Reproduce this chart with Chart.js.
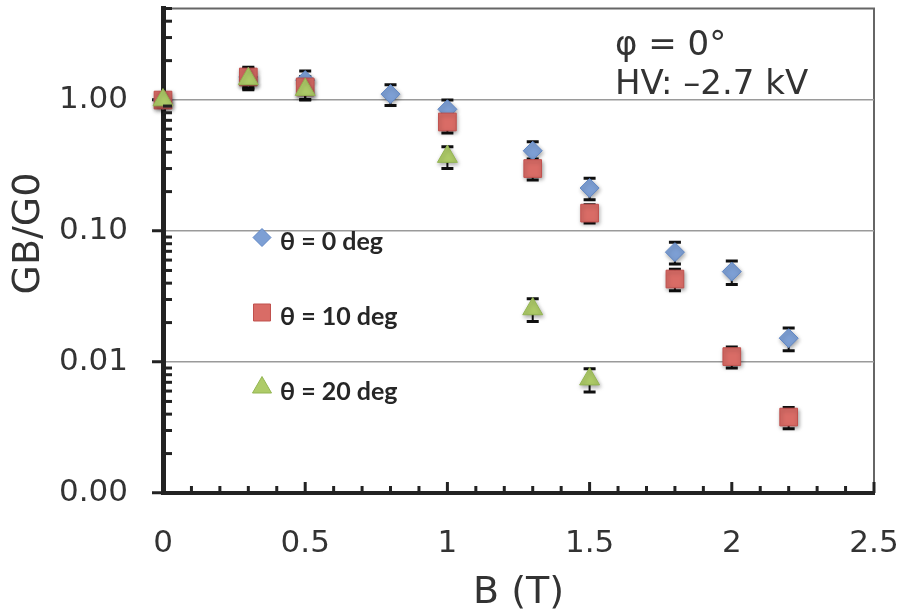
<!DOCTYPE html>
<html>
<head>
<meta charset="utf-8">
<script src="https://cdn.jsdelivr.net/npm/chart.js@4.4.1/dist/chart.umd.min.js"></script>
<style>
  html, body { margin: 0; padding: 0; background: #fff; overflow: hidden; }
  /* canvas a bit taller and lifted so the plot top lands where the original has it */
  #wrap { width: 905px; height: 621px; margin-top: -5px; }
</style>
</head>
<body>
<div id="wrap"><canvas id="chart"></canvas></div>
<script>
// field values (T)
var B_FIELD = [0, 0.3, 0.5, 0.8, 1.0, 1.3, 1.5, 1.8, 2.0, 2.2];

// GB/G0 per tilt angle, null where not measured
var THETA0      = [1.00, 1.50, 1.42, 1.11, 0.85, 0.41, 0.213, 0.069, 0.049, 0.0152];
var THETA0_ERR  = [0.10, 0.25, 0.25, 0.20, 0.15, 0.07, 0.04, 0.013, 0.010, 0.003];
var THETA10     = [1.00, 1.50, 1.26, null, 0.68, 0.30, 0.137, 0.043, 0.011, 0.0038];
var THETA10_ERR = [0.12, 0.28, 0.25, null, 0.12, 0.055, 0.022, 0.008, 0.002, 0.0007];
var THETA20     = [1.00, 1.45, 1.20, null, 0.37, 0.0254, 0.0074, null, null, null];
var THETA20_ERR = [0.10, 0.25, 0.20, null, 0.07, 0.005, 0.0015, null, null, null];

var SERIES_LABELS = ['\u03b8 = 0 deg', '\u03b8 = 10 deg', '\u03b8 = 20 deg'];
var Y_TICKS = [0.001, 0.01, 0.1, 1];
var X_TICKS = [0, 0.5, 1, 1.5, 2, 2.5];
var NOTE_LINES = ['\u03c6 = 0\u00b0', 'HV: \u20132.7 kV'];
var Y_TITLE = 'GB/G0';

var FILLS   = ['#7d9fd4', '#d96c66', '#aecb68'];
var BORDERS = ['#5f86c4', '#c0504d', '#93b552'];
var STYLES  = ['rectRot', 'rect', 'triangle'];
var RADII   = [9.5, 12.5, 11.5];

var INK = '#333333';

function points(vals) {
  var out = [];
  vals.forEach(function (v, i) {
    if (v !== null) out.push({ x: B_FIELD[i], y: v });
  });
  return out;
}

var seriesVals = [THETA0, THETA10, THETA20];
var errors = [THETA0_ERR, THETA10_ERR, THETA20_ERR];

var errorBarPlugin = {
  id: 'errorBars',
  beforeDatasetsDraw: function (chart) {
    var c = chart.ctx, xs = chart.scales.x, ys = chart.scales.y;
    c.save();
    c.strokeStyle = '#111';
    errors.forEach(function (errs, d) {
      seriesVals[d].forEach(function (v, i) {
        if (v === null) return;
        var px = xs.getPixelForValue(B_FIELD[i]);
        var top = ys.getPixelForValue(v + errs[i]);
        var bot = ys.getPixelForValue(v - errs[i]);
        c.lineWidth = 2;
        c.beginPath();
        c.moveTo(px, top); c.lineTo(px, bot);
        c.stroke();
        c.lineWidth = 3;
        c.beginPath();
        c.moveTo(px - 6, top); c.lineTo(px + 6, top);
        c.moveTo(px - 6, bot); c.lineTo(px + 6, bot);
        c.stroke();
      });
    });
    c.restore();
  }
};

var shadowPlugin = {
  id: 'markerShadow',
  beforeDatasetDraw: function (chart) {
    var c = chart.ctx;
    c.save();
    c.shadowColor = 'rgba(0,0,0,0.35)';
    c.shadowBlur = 4;
    c.shadowOffsetX = 1;
    c.shadowOffsetY = 2;
  },
  afterDatasetDraw: function (chart) {
    chart.ctx.restore();
  }
};

function drawMarker(c, style, x, y, r) {
  c.beginPath();
  if (style === 'rectRot') {
    c.moveTo(x - r, y); c.lineTo(x, y - r); c.lineTo(x + r, y); c.lineTo(x, y + r);
  } else if (style === 'rect') {
    var s = r * Math.SQRT1_2;
    c.rect(x - s, y - s, 2 * s, 2 * s);
  } else {
    c.moveTo(x, y - r);
    c.lineTo(x + Math.sin(2 * Math.PI / 3) * r, y + r / 2);
    c.lineTo(x - Math.sin(2 * Math.PI / 3) * r, y + r / 2);
  }
  c.closePath();
  c.fill();
  c.stroke();
}

var framePlugin = {
  id: 'frame',
  beforeDraw: function (chart) {
    var c = chart.ctx, a = chart.chartArea;
    c.save();
    c.strokeStyle = '#666';
    c.lineWidth = 2;
    c.beginPath();
    c.moveTo(a.left, a.top); c.lineTo(a.right, a.top); c.lineTo(a.right, a.bottom);
    c.stroke();
    c.restore();
  },
  afterDraw: function (chart) {
    var c = chart.ctx, a = chart.chartArea, xs = chart.scales.x, ys = chart.scales.y;
    c.save();
    c.strokeStyle = '#222';
    c.lineWidth = 3;
    // minor ticks on the log axis, pointing inwards
    Y_TICKS.forEach(function (dec) {
      for (var m = 2; m <= 9; m++) {
        var v = m * dec;
        if (v > ys.max) break;
        var py = ys.getPixelForValue(v);
        c.beginPath(); c.moveTo(a.left, py); c.lineTo(a.left + 9, py); c.stroke();
      }
    });
    c.beginPath(); c.moveTo(a.left, a.top); c.lineTo(a.left + 9, a.top); c.stroke();
    // x ticks every 0.1, taller on the labelled ones
    for (var k = 0; k <= 25; k++) {
      var px = xs.getPixelForValue(k / 10);
      var len = (k % 5 === 0) ? 11 : 7;
      c.beginPath(); c.moveTo(px, a.bottom); c.lineTo(px, a.bottom - len); c.stroke();
    }
    // legend, placed from the plot's top edge
    c.lineWidth = 1;
    c.textBaseline = 'middle';
    c.textAlign = 'left';
    c.font = 'bold 25px Lato';
    var rows = [231, 306, 381];
    SERIES_LABELS.forEach(function (lab, i) {
      c.fillStyle = FILLS[i];
      c.strokeStyle = BORDERS[i];
      drawMarker(c, STYLES[i], 262, a.top + rows[i] - 2, [9, 12, 11][i]);
      c.fillStyle = '#262626';
      c.fillText(lab, 280, a.top + rows[i] + 2);
    });
    // note
    c.font = '34px "DejaVu Sans"';
    c.fillStyle = INK;
    c.fillText(NOTE_LINES[0], 615, a.top + 38);
    c.fillText(NOTE_LINES[1], 615, a.top + 77);
    // y title, sits a little above the axis centre
    c.translate(29, a.top + 225);
    c.rotate(-Math.PI / 2);
    c.textAlign = 'center';
    c.font = '38px "DejaVu Sans"';
    c.fillText(Y_TITLE, 0, 0);
    c.restore();
  }
};

var datasets = seriesVals.map(function (vals, i) {
  return {
    label: SERIES_LABELS[i],
    data: points(vals),
    showLine: false,
    pointStyle: STYLES[i],
    pointRadius: RADII[i],
    pointHoverRadius: RADII[i],
    backgroundColor: FILLS[i],
    borderColor: BORDERS[i],
    borderWidth: 1,
    order: 3 - i,
    clip: false
  };
});

new Chart(document.getElementById('chart'), {
  type: 'scatter',
  data: { datasets: datasets },
  options: {
    responsive: true,
    maintainAspectRatio: false,
    animation: false,
    layout: { padding: { left: 0, right: 31, top: 7, bottom: 0 } },
    plugins: {
      legend: { display: false },
      tooltip: { enabled: false }
    },
    scales: {
      x: {
        type: 'linear',
        min: 0,
        max: 2.5,
        afterBuildTicks: function (s) { s.ticks = X_TICKS.map(function (v) { return { value: v }; }); },
        afterFit: function (s) { s.height = 123; s.paddingLeft = 0; s.paddingRight = 0; },
        ticks: {
          font: { family: 'DejaVu Sans', size: 31 }, color: INK, padding: 32, maxRotation: 0,
          callback: function (v) { return String(v); }
        },
        grid: { display: false, drawTicks: false },
        border: { color: '#222', width: 4 },
        title: { display: true, text: 'B (T)', font: { family: 'DejaVu Sans', size: 38 }, color: INK, padding: { top: 0, bottom: 0 } }
      },
      y: {
        type: 'logarithmic',
        min: 0.001,
        max: 5,
        afterBuildTicks: function (s) { s.ticks = Y_TICKS.map(function (v) { return { value: v, major: true }; }); },
        afterFit: function (s) { s.width = 163; s.paddingTop = 0; s.paddingBottom = 0; },
        ticks: {
          font: { family: 'DejaVu Sans', size: 31, lineHeight: 0.4 },
          color: INK,
          padding: 24,
          callback: function (v) { return Number(v).toFixed(2); }
        },
        grid: {
          color: function (ctx) { return ctx.tick && ctx.tick.value > 0.001 ? '#9a9a9a' : 'rgba(0,0,0,0)'; },
          lineWidth: 1.5,
          tickColor: '#222',
          tickWidth: 3,
          tickLength: 11
        },
        border: { color: '#222', width: 5 }
      }
    }
  },
  plugins: [errorBarPlugin, shadowPlugin, framePlugin]
});
</script>
</body>
</html>
